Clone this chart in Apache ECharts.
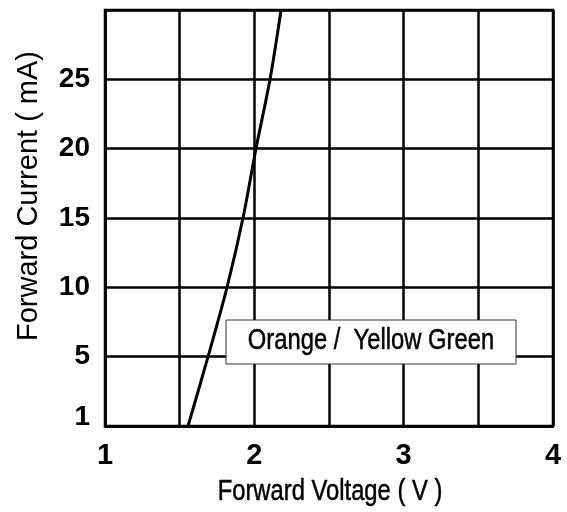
<!DOCTYPE html>
<html>
<head>
<meta charset="utf-8">
<script src="https://cdn.jsdelivr.net/npm/echarts@6/dist/echarts.min.js"></script>
<style>
  html, body { margin: 0; padding: 0; background: #fff; }
  #chart { width: 567px; height: 512px; }
</style>
</head>
<body>
<div id="chart"></div>
<script>
// forward voltage (V) vs forward current (mA)
const voltage = [1.556, 1.69, 1.817, 1.924, 2.011, 2.105, 2.179];
const current = [0, 5, 10, 15, 20, 25, 30];

const xTicks = [1, 2, 3, 4];
const xTickLabels = ["1", "2", "3", "4"];
const yTicks = [0, 5, 10, 15, 20, 25];
const yTickLabels = ["1", "5", "10", "15", "20", "25"];

const seriesName = "Orange /  Yellow Green";
const xTitle = "Forward Voltage ( V )";
const yTitle = "Forward Current ( mA)";

const chart = echarts.init(document.getElementById("chart"));

const sans = "'Liberation Sans', Arial, sans-serif";

chart.setOption({
  animation: false,
  backgroundColor: "#fff",
  grid: {
    left: 105, right: 14, top: 10, bottom: 86,
    show: true, borderColor: "#000", borderWidth: 2.5,
  },
  xAxis: {
    type: "value",
    min: 1, max: 4, interval: 0.5,
    axisLine: { lineStyle: { color: "#000", width: 2.5 } },
    axisTick: { show: false },
    splitLine: { lineStyle: { color: "#000", width: 2.5 } },
    axisLabel: {
      margin: 15,
      color: "#000",
      fontFamily: sans,
      fontWeight: "bold",
      fontSize: 29,
      formatter: (v) => {
        const i = xTicks.indexOf(v);
        return i >= 0 ? xTickLabels[i] : "";
      },
    },
  },
  yAxis: {
    type: "value",
    min: 0, max: 30, interval: 5,
    axisLine: { lineStyle: { color: "#000", width: 2.5 } },
    axisTick: { show: false },
    splitLine: { lineStyle: { color: "#000", width: 2.5 } },
    axisLabel: {
      margin: 15,
      color: "#000",
      fontFamily: sans,
      fontWeight: "bold",
      fontSize: 28,
      formatter: (v) => {
        const i = yTicks.indexOf(v);
        if (i < 0) return "";
        return i === 0 ? "{one|" + yTickLabels[i] + "}" : yTickLabels[i];
      },
      rich: {
        one: {
          fontFamily: sans, fontWeight: "bold", fontSize: 28, color: "#000",
          padding: [0, 0, 18, 0],
        },
      },
    },
    name: yTitle,
    nameLocation: "middle",
    nameGap: 62,
    nameTextStyle: { color: "#000", fontFamily: sans, fontSize: 29, padding: [0, 0, 0, 44] },
  },
  graphic: [
    {
      type: "text",
      x: 330, y: 492,
      scaleX: 0.82,
      z: 100,
      style: {
        text: xTitle,
        fill: "#000",
        stroke: "#000",
        lineWidth: 0.5,
        font: "29px " + sans,
        align: "center",
        verticalAlign: "middle",
      },
    },
    {
      type: "rect",
      x: 226, y: 320,
      z: 100,
      shape: { x: 0, y: 0, width: 290, height: 44 },
      style: { fill: "#fff", stroke: "#333", lineWidth: 1 },
    },
    {
      type: "text",
      x: 371, y: 341,
      scaleX: 0.82,
      z: 101,
      style: {
        text: seriesName,
        fill: "#000",
        stroke: "#000",
        lineWidth: 0.5,
        font: "29px " + sans,
        align: "center",
        verticalAlign: "middle",
      },
    },
  ],
  series: [
    {
      name: seriesName,
      type: "line",
      data: voltage.map((v, i) => [v, current[i]]),
      smooth: 0.3,
      symbol: "none",
      lineStyle: { color: "#000", width: 3 },
    },
  ],
});
</script>
</body>
</html>
